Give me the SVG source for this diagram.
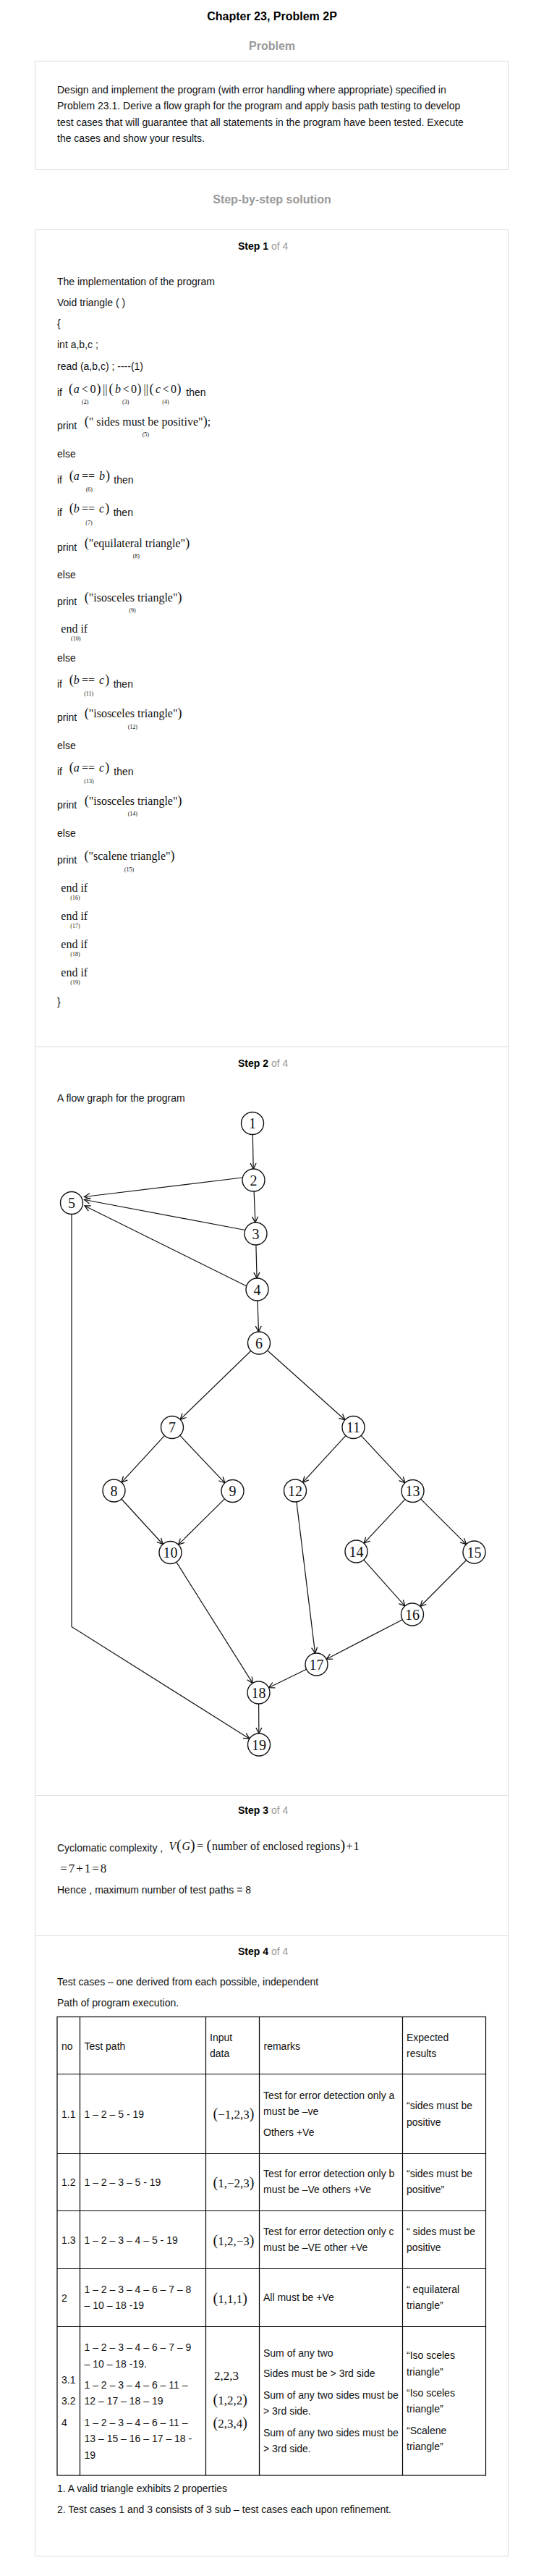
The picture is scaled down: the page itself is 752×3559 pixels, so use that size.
<svg xmlns="http://www.w3.org/2000/svg" width="752" height="3559" viewBox="0 0 752 3559">
<defs>
<style>
.s{font-family:"Liberation Sans",Arial,sans-serif;font-size:14px;fill:#111}
.hd{font-family:"Liberation Sans",Arial,sans-serif;font-size:16px;font-weight:bold;fill:#999;text-anchor:middle}
.st{font-family:"Liberation Sans",Arial,sans-serif;font-size:14px}
.m{font-family:"Liberation Serif","Times New Roman",serif;font-size:16px;fill:#111}
.m17{font-family:"Liberation Serif","Times New Roman",serif;font-size:17px;fill:#111}
.i{font-style:italic}
.p{font-size:18px}
.p20{font-size:20px}
.sub{font-family:"Liberation Serif","Times New Roman",serif;font-size:8px;fill:#111;text-anchor:middle}
.box{fill:none;stroke:#dcdcdc;stroke-width:1}
.tbl{fill:none;stroke:#000;stroke-width:1.2}
.node circle{fill:#fff;stroke:#111;stroke-width:1.4}
.node text{font-family:"Liberation Serif","Times New Roman",serif;font-size:20px;fill:#111;text-anchor:middle}
.edge{fill:none;stroke:#111;stroke-width:1.2;marker-end:url(#arr)}
</style>
<marker id="arr" viewBox="0 0 12 12" markerWidth="12" markerHeight="12" refX="10" refY="6" orient="auto" markerUnits="userSpaceOnUse">
<path d="M2,2 L10,6 L2,10" fill="none" stroke="#111" stroke-width="1.3"/>
</marker>
</defs>
<rect width="752" height="3559" fill="#fff"/>

<g id="header">
<text x="376" y="27.5" font-family="Liberation Sans, Arial, sans-serif" font-size="16" font-weight="bold" fill="#000" text-anchor="middle">Chapter 23, Problem 2P</text>
<text x="376" y="68.5" class="hd">Problem</text>
<rect x="48.5" y="84.5" width="654" height="150" class="box"/>
<text x="79" y="128.5" class="s">Design and implement the program (with error handling where appropriate) specified in</text>
<text x="79" y="151" class="s">Problem 23.1. Derive a flow graph for the program and apply basis path testing to develop</text>
<text x="79" y="173.5" class="s">test cases that will guarantee that all statements in the program have been tested. Execute</text>
<text x="79" y="196" class="s">the cases and show your results.</text>
<text x="376" y="281" class="hd">Step-by-step solution</text>
</g>

<g id="steps-frame">
<rect x="48.5" y="317.5" width="654" height="3214" class="box"/>
<line x1="48.5" y1="1446" x2="702.5" y2="1446" class="box"/>
<line x1="48.5" y1="2480.5" x2="702.5" y2="2480.5" class="box"/>
<line x1="48.5" y1="2674.5" x2="702.5" y2="2674.5" class="box"/>
</g>

<g id="step1">
<text x="329" y="344.5" class="st"><tspan font-weight="bold" fill="#000">Step 1</tspan><tspan fill="#999"> of 4</tspan></text>
<text x="79" y="393.5" class="s">The implementation of the program</text>
<text x="79" y="422.5" class="s">Void triangle ( )</text>
<text x="79" y="451.5" class="s">{</text>
<text x="79" y="481" class="s">int a,b,c ;</text>
<text x="79" y="510.5" class="s">read (a,b,c) ; ----(1)</text>

<text x="79" y="546.5" class="s">if</text>
<text class="m" y="542.5"><tspan x="95" class="p">(</tspan><tspan x="101.7" class="i">a</tspan><tspan x="112.5">&lt;</tspan><tspan x="124.5">0</tspan><tspan x="133.5" class="p">)</tspan><tspan x="142">||</tspan><tspan x="150.5" class="p">(</tspan><tspan x="159" class="i">b</tspan><tspan x="169.5">&lt;</tspan><tspan x="181">0</tspan><tspan x="189.5" class="p">)</tspan><tspan x="198.5">||</tspan><tspan x="206.5" class="p">(</tspan><tspan x="215" class="i">c</tspan><tspan x="224.5">&lt;</tspan><tspan x="236">0</tspan><tspan x="244.5" class="p">)</tspan></text>
<text x="257.3" y="546.5" class="s">then</text>
<text x="117.7" y="557.5" class="sub">(2)</text>
<text x="173.7" y="557.5" class="sub">(3)</text>
<text x="229" y="557.5" class="sub">(4)</text>

<text x="79" y="592.5" class="s">print</text>
<text x="116.7" y="588" class="m"><tspan class="p">(</tspan>" sides must be positive"<tspan class="p">)</tspan>;</text>
<text x="201.3" y="603" class="sub">(5)</text>

<text x="79" y="631.5" class="s">else</text>

<text x="79" y="667.7" class="s">if</text>
<text class="m" y="662.5"><tspan x="95.7" class="p">(</tspan><tspan x="101.7" class="i">a</tspan><tspan x="113">==</tspan><tspan x="137" class="i">b</tspan><tspan x="146" class="p">)</tspan></text>
<text x="157.3" y="667.7" class="s">then</text>
<text x="123.3" y="679" class="sub">(6)</text>

<text x="79" y="713.3" class="s">if</text>
<text class="m" y="708"><tspan x="95.7" class="p">(</tspan><tspan x="101.7" class="i">b</tspan><tspan x="113">==</tspan><tspan x="137" class="i">c</tspan><tspan x="145.3" class="p">)</tspan></text>
<text x="156.7" y="713.3" class="s">then</text>
<text x="123" y="725" class="sub">(7)</text>

<text x="79" y="760.5" class="s">print</text>
<text x="116.7" y="755.5" class="m"><tspan class="p">(</tspan>"equilateral triangle"<tspan class="p">)</tspan></text>
<text x="188.3" y="770.5" class="sub">(8)</text>

<text x="79" y="799.3" class="s">else</text>

<text x="79" y="836" class="s">print</text>
<text x="116.7" y="831" class="m"><tspan class="p">(</tspan>"isosceles triangle"<tspan class="p">)</tspan></text>
<text x="183" y="846" class="sub">(9)</text>

<text x="84.3" y="874" class="m">end if</text>
<text x="104.7" y="884.5" class="sub">(10)</text>

<text x="79" y="914" class="s">else</text>

<text x="79" y="950" class="s">if</text>
<text class="m" y="944.5"><tspan x="95.7" class="p">(</tspan><tspan x="101.7" class="i">b</tspan><tspan x="113">==</tspan><tspan x="137" class="i">c</tspan><tspan x="145.3" class="p">)</tspan></text>
<text x="156.7" y="950" class="s">then</text>
<text x="122.7" y="960.5" class="sub">(11)</text>

<text x="79" y="996" class="s">print</text>
<text x="116.7" y="990.5" class="m"><tspan class="p">(</tspan>"isosceles triangle"<tspan class="p">)</tspan></text>
<text x="183.3" y="1006.5" class="sub">(12)</text>

<text x="79" y="1035" class="s">else</text>

<text x="79" y="1071" class="s">if</text>
<text class="m" y="1065.5"><tspan x="95.7" class="p">(</tspan><tspan x="101.7" class="i">a</tspan><tspan x="113">==</tspan><tspan x="137" class="i">c</tspan><tspan x="145.3" class="p">)</tspan></text>
<text x="157.3" y="1071" class="s">then</text>
<text x="123" y="1081.5" class="sub">(13)</text>

<text x="79" y="1116.7" class="s">print</text>
<text x="116.7" y="1111.5" class="m"><tspan class="p">(</tspan>"isosceles triangle"<tspan class="p">)</tspan></text>
<text x="183.3" y="1127.3" class="sub">(14)</text>

<text x="79" y="1156" class="s">else</text>

<text x="79" y="1192.7" class="s">print</text>
<text x="116.5" y="1187.5" class="m"><tspan class="p">(</tspan>"scalene triangle"<tspan class="p">)</tspan></text>
<text x="178.4" y="1204" class="sub">(15)</text>

<text x="84.3" y="1231.7" class="m">end if</text>
<text x="104" y="1242.5" class="sub">(16)</text>
<text x="84.3" y="1271" class="m">end if</text>
<text x="104" y="1281.7" class="sub">(17)</text>
<text x="84.3" y="1310" class="m">end if</text>
<text x="104" y="1321" class="sub">(18)</text>
<text x="84.3" y="1349.3" class="m">end if</text>
<text x="104" y="1360" class="sub">(19)</text>
<text x="79" y="1388.5" class="s">}</text>
</g>

<g id="step2">
<text x="329" y="1473.5" class="st"><tspan font-weight="bold" fill="#000">Step 2</tspan><tspan fill="#999"> of 4</tspan></text>
<text x="79" y="1521.5" class="s">A flow graph for the program</text>
</g>

<g id="connectors">
<line class="edge" x1="349.3" y1="1567.5" x2="350.2" y2="1615"/>
<line class="edge" x1="351.1" y1="1646" x2="352.9" y2="1689"/>
<line class="edge" x1="353.9" y1="1720" x2="355.1" y2="1766"/>
<line class="edge" x1="356" y1="1797" x2="357.5" y2="1840"/>
<line class="edge" x1="335" y1="1627" x2="116.5" y2="1653.5"/>
<line class="edge" x1="339" y1="1699.5" x2="116.5" y2="1657.5"/>
<line class="edge" x1="341" y1="1777" x2="117" y2="1666"/>
<line class="edge" x1="346.9" y1="1866.3" x2="249.1" y2="1961.2"/>
<line class="edge" x1="369.6" y1="1865.8" x2="476.9" y2="1961.7"/>
<line class="edge" x1="227.5" y1="1983.4" x2="168" y2="2048.1"/>
<line class="edge" x1="248.7" y1="1983.2" x2="310.8" y2="2048.8"/>
<line class="edge" x1="478" y1="1983.4" x2="418.5" y2="2048.1"/>
<line class="edge" x1="499.1" y1="1983.3" x2="559.9" y2="2048.7"/>
<line class="edge" x1="167.9" y1="2071" x2="225.1" y2="2133.5"/>
<line class="edge" x1="310.5" y1="2070.9" x2="246.5" y2="2134.1"/>
<line class="edge" x1="559.9" y1="2071.3" x2="503.1" y2="2132.2"/>
<line class="edge" x1="581.5" y1="2070.9" x2="644.5" y2="2133.6"/>
<line class="edge" x1="502.8" y1="2155.1" x2="559.7" y2="2218.9"/>
<line class="edge" x1="644.6" y1="2155.5" x2="580.9" y2="2219.5"/>
<line class="edge" x1="556.3" y1="2237.7" x2="451.2" y2="2292.3"/>
<line class="edge" x1="409.9" y1="2074.9" x2="435.6" y2="2284.1"/>
<line class="edge" x1="243.8" y1="2158.1" x2="349.2" y2="2325.4"/>
<line class="edge" x1="423.6" y1="2306.3" x2="371.4" y2="2331.7"/>
<line class="edge" x1="357.6" y1="2354" x2="357.9" y2="2395"/>
<path class="edge" d="M99,1677.5 V2247.5 L344.9,2402.2"/>
</g>

<g id="node-1" class="node"><circle cx="349" cy="1552" r="15.5"/><text x="349" y="1559">1</text></g>
<g id="node-2" class="node"><circle cx="350.5" cy="1630.5" r="15.5"/><text x="350.5" y="1637.5">2</text></g>
<g id="node-3" class="node"><circle cx="353.5" cy="1704.5" r="15.5"/><text x="353.5" y="1711.5">3</text></g>
<g id="node-4" class="node"><circle cx="355.5" cy="1781.5" r="15.5"/><text x="355.5" y="1788.5">4</text></g>
<g id="node-5" class="node"><circle cx="99" cy="1662" r="15.5"/><text x="99" y="1669">5</text></g>
<g id="node-6" class="node"><circle cx="358" cy="1855.5" r="15.5"/><text x="358" y="1862.5">6</text></g>
<g id="node-7" class="node"><circle cx="238" cy="1972" r="15.5"/><text x="238" y="1979">7</text></g>
<g id="node-8" class="node"><circle cx="157.5" cy="2059.5" r="15.5"/><text x="157.5" y="2066.5">8</text></g>
<g id="node-9" class="node"><circle cx="321.5" cy="2060" r="15.5"/><text x="321.5" y="2067">9</text></g>
<g id="node-10" class="node"><circle cx="235.5" cy="2145" r="15.5"/><text x="235.5" y="2152">10</text></g>
<g id="node-11" class="node"><circle cx="488.5" cy="1972" r="15.5"/><text x="488.5" y="1979">11</text></g>
<g id="node-12" class="node"><circle cx="408" cy="2059.5" r="15.5"/><text x="408" y="2066.5">12</text></g>
<g id="node-13" class="node"><circle cx="570.5" cy="2060" r="15.5"/><text x="570.5" y="2067">13</text></g>
<g id="node-14" class="node"><circle cx="492.5" cy="2143.5" r="15.5"/><text x="492.5" y="2150.5">14</text></g>
<g id="node-15" class="node"><circle cx="655.5" cy="2144.5" r="15.5"/><text x="655.5" y="2151.5">15</text></g>
<g id="node-16" class="node"><circle cx="570" cy="2230.5" r="15.5"/><text x="570" y="2237.5">16</text></g>
<g id="node-17" class="node"><circle cx="437.5" cy="2299.5" r="15.5"/><text x="437.5" y="2306.5">17</text></g>
<g id="node-18" class="node"><circle cx="357.5" cy="2338.5" r="15.5"/><text x="357.5" y="2345.5">18</text></g>
<g id="node-19" class="node"><circle cx="358" cy="2410.5" r="15.5"/><text x="358" y="2417.5">19</text></g>

<g id="step3">
<text x="329" y="2506" class="st"><tspan font-weight="bold" fill="#000">Step 3</tspan><tspan fill="#999"> of 4</tspan></text>
<text x="79" y="2557.5" class="s">Cyclomatic complexity ,</text>
<text class="m" y="2556"><tspan x="233.6" class="i">V</tspan><tspan x="244" class="p20">(</tspan><tspan x="251.5" class="i">G</tspan><tspan x="263" class="p20">)</tspan><tspan x="272">=</tspan><tspan x="285.5" class="p20">(</tspan><tspan x="293">number of enclosed regions</tspan><tspan x="470.5" class="p20">)</tspan><tspan x="478.5">+</tspan><tspan x="488.5">1</tspan></text>
<text x="83.3" y="2586.7" class="m17" textLength="64" lengthAdjust="spacing">= 7 + 1 = 8</text>
<text x="79" y="2615.5" class="s">Hence , maximum number of test paths = 8</text>
</g>

<g id="step4">
<text x="329" y="2700.7" class="st"><tspan font-weight="bold" fill="#000">Step 4</tspan><tspan fill="#999"> of 4</tspan></text>
<text x="79" y="2743.3" class="s">Test cases – one derived from each possible, independent</text>
<text x="79" y="2772" class="s">Path of program execution.</text>
</g>

<g id="table">
<rect x="79" y="2786.5" width="592.5" height="633.5" class="tbl"/>
<line x1="110.5" y1="2786.5" x2="110.5" y2="3420" class="tbl"/>
<line x1="284.5" y1="2786.5" x2="284.5" y2="3420" class="tbl"/>
<line x1="358.5" y1="2786.5" x2="358.5" y2="3420" class="tbl"/>
<line x1="556.5" y1="2786.5" x2="556.5" y2="3420" class="tbl"/>
<line x1="79" y1="2865.5" x2="671.5" y2="2865.5" class="tbl"/>
<line x1="79" y1="2975.5" x2="671.5" y2="2975.5" class="tbl"/>
<line x1="79" y1="3054.5" x2="671.5" y2="3054.5" class="tbl"/>
<line x1="79" y1="3134.5" x2="671.5" y2="3134.5" class="tbl"/>
<line x1="79" y1="3214.5" x2="671.5" y2="3214.5" class="tbl"/>

<text x="85" y="2831.7" class="s">no</text>
<text x="116.5" y="2831.7" class="s">Test path</text>
<text x="290" y="2819.5" class="s">Input</text>
<text x="290" y="2842" class="s">data</text>
<text x="364.5" y="2831.7" class="s">remarks</text>
<text x="562" y="2819.5" class="s">Expected</text>
<text x="562" y="2842" class="s">results</text>

<text x="85" y="2926" class="s">1.1</text>
<text x="116.5" y="2926" class="s">1 – 2 – 5 - 19</text>
<text x="294.6" y="2927" class="m17"><tspan class="p20">(</tspan>−1,2,3<tspan class="p20">)</tspan></text>
<text x="364" y="2900" class="s">Test for error detection only a</text>
<text x="364" y="2921.7" class="s">must be –ve</text>
<text x="364" y="2950.7" class="s">Others +Ve</text>
<text x="562" y="2914" class="s">“sides must be</text>
<text x="562" y="2936.7" class="s">positive</text>

<text x="85" y="3020" class="s">1.2</text>
<text x="116.5" y="3020" class="s">1 – 2 – 3 – 5 - 19</text>
<text x="294.6" y="3021.5" class="m17"><tspan class="p20">(</tspan>1,−2,3<tspan class="p20">)</tspan></text>
<text x="364" y="3008.3" class="s">Test for error detection only b</text>
<text x="364" y="3030" class="s">must be –Ve others +Ve</text>
<text x="562" y="3008.3" class="s">“sides must be</text>
<text x="562" y="3030" class="s">positive”</text>

<text x="85" y="3100" class="s">1.3</text>
<text x="116.5" y="3100" class="s">1 – 2 – 3 – 4 – 5 - 19</text>
<text x="294.6" y="3101.5" class="m17"><tspan class="p20">(</tspan>1,2,−3<tspan class="p20">)</tspan></text>
<text x="364" y="3088.3" class="s">Test for error detection only c</text>
<text x="364" y="3110" class="s">must be –VE other +Ve</text>
<text x="562" y="3088.3" class="s">“ sides must be</text>
<text x="562" y="3110" class="s">positive</text>

<text x="85" y="3180" class="s">2</text>
<text x="116.5" y="3167.7" class="s">1 – 2 – 3 – 4 – 6 – 7 – 8</text>
<text x="116.5" y="3190" class="s">– 10 – 18 -19</text>
<text x="294.6" y="3181.5" class="m17"><tspan class="p20">(</tspan>1,1,1<tspan class="p20">)</tspan></text>
<text x="364" y="3179.3" class="s">All must be +Ve</text>
<text x="562" y="3167.7" class="s">“ equilateral</text>
<text x="562" y="3190" class="s">triangle”</text>

<text x="85" y="3292.7" class="s">3.1</text>
<text x="85" y="3321.7" class="s">3.2</text>
<text x="85" y="3351.7" class="s">4</text>
<text x="116.5" y="3247.7" class="s">1 – 2 – 3 – 4 – 6 – 7 – 9</text>
<text x="116.5" y="3270.7" class="s">– 10 – 18 -19.</text>
<text x="116.5" y="3300" class="s">1 – 2 – 3 – 4 – 6 – 11 –</text>
<text x="116.5" y="3321.7" class="s">12 – 17 – 18 – 19</text>
<text x="116.5" y="3351.7" class="s">1 – 2 – 3 – 4 – 6 – 11 –</text>
<text x="116.5" y="3374" class="s">13 – 15 – 16 – 17 – 18 -</text>
<text x="116.5" y="3396.7" class="s">19</text>
<text x="296" y="3288.3" class="m17">2,2,3</text>
<text x="294.6" y="3322" class="m17"><tspan class="p20">(</tspan>1,2,2<tspan class="p20">)</tspan></text>
<text x="294.6" y="3354" class="m17"><tspan class="p20">(</tspan>2,3,4<tspan class="p20">)</tspan></text>
<text x="364" y="3256" class="s">Sum of any two</text>
<text x="364" y="3284.3" class="s">Sides must be &gt; 3rd side</text>
<text x="364" y="3314" class="s">Sum of any two sides must be</text>
<text x="364" y="3336" class="s">&gt; 3rd side.</text>
<text x="364" y="3366" class="s">Sum of any two sides must be</text>
<text x="364" y="3388.3" class="s">&gt; 3rd side.</text>
<text x="562" y="3259" class="s">“Iso sceles</text>
<text x="562" y="3281.7" class="s">triangle”</text>
<text x="562" y="3310.7" class="s">“Iso sceles</text>
<text x="562" y="3333.3" class="s">triangle”</text>
<text x="562" y="3362.7" class="s">“Scalene</text>
<text x="562" y="3385" class="s">triangle”</text>
</g>

<g id="notes">
<text x="79" y="3443.3" class="s">1. A valid triangle exhibits 2 properties</text>
<text x="79" y="3472.3" class="s">2. Test cases 1 and 3 consists of 3 sub – test cases each upon refinement.</text>
</g>
</svg>
